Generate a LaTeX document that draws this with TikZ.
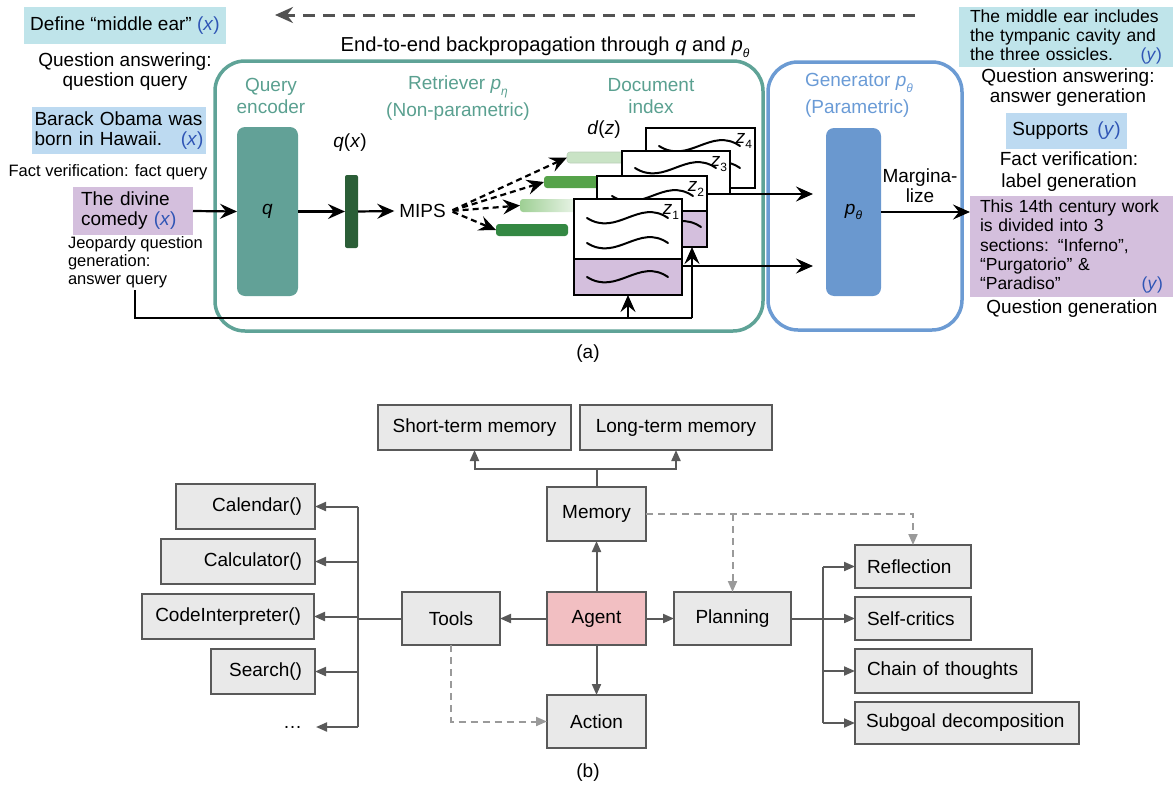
\documentclass[tikz,border=0pt]{standalone}
\usepackage{fontspec}
\setmainfont{Liberation Sans}
\usetikzlibrary{arrows.meta,calc}

\definecolor{tealline}{HTML}{5FA397}
\definecolor{tealfill}{HTML}{62A197}
\definecolor{tealtext}{HTML}{5AA090}
\definecolor{blueline}{HTML}{6C9BD3}
\definecolor{bluefill}{HTML}{6A98CF}
\definecolor{bluetext}{HTML}{6A9BD6}
\definecolor{cyanbox}{HTML}{BFE4EA}
\definecolor{lbluebox}{HTML}{BDDAF1}
\definecolor{purplebox}{HTML}{D4BFDD}
\definecolor{varblue}{HTML}{2F55B5}
\definecolor{qxgreen}{HTML}{2B5E37}
\definecolor{bardark}{HTML}{348843}
\definecolor{barmid}{HTML}{56A34A}
\definecolor{barpale}{HTML}{C9E3C5}
\definecolor{barlight}{HTML}{9ECF94}
\definecolor{boxgray}{HTML}{E9E9E9}
\definecolor{edgegray}{HTML}{595959}
\definecolor{dashgray}{HTML}{9A9A9A}
\definecolor{agentpink}{HTML}{F2BFC2}

\newcommand\xvar{\textcolor{varblue}{(\textit{x})}}
\newcommand\yvar{\textcolor{varblue}{(\textit{y})}}
\newcommand\parsub[1]{\textit{p}\raisebox{-0.3em}{\fontsize{12}{12}\selectfont\textit{#1}}}
\newcommand\docz[1]{\textit{z}\raisebox{-0.3em}{\fontsize{12}{12}\selectfont #1}}

\tikzset{
  docwave/.pic={\draw[line width=2pt, line cap=round] (0,0) .. controls (30,19) and (52,-20) .. (81,0);},
  blacktip/.tip={Stealth[length=17pt,width=15pt,inset=6pt]},
}

\begin{document}
\begin{tikzpicture}[x=1pt,y=-1pt,
  every node/.style={inner sep=0pt, outer sep=0pt, font=\fontsize{19}{20}\selectfont},
  smalltxt/.style={font=\fontsize{16.5}{18}\selectfont},
  boxtxt/.style={font=\fontsize{17.5}{19.3}\selectfont},
  arr/.style={line width=2.2pt, -blacktip},
  dasharr/.style={arr, dash pattern=on 6pt off 4pt},
  backprop/.style={draw=black!68, line width=3pt, dash pattern=on 12pt off 8pt, -{Stealth[length=18pt,width=16pt,inset=6pt]}},
  card/.style={draw=black, line width=2pt, fill=white},
  cardq/.style={card, fill=purplebox},
  docbar/.style={rounded corners=3pt},
  gbox/.style={draw=edgegray, fill=boxgray, line width=2pt},
  garr/.style={draw=edgegray, line width=2pt, -{Triangle[length=11pt,width=9pt]}},
  gdash/.style={draw=dashgray, line width=2pt, dash pattern=on 7pt off 5pt, -{Triangle[length=11pt,width=9pt]}},
  gline/.style={draw=edgegray, line width=2pt},
]
\useasboundingbox (0,0) rectangle (1173,787);

% ---------------- (a) retrieval-augmented generation ----------------
\node[draw=tealline, line width=3.5pt, rounded corners=30pt, minimum width=548pt, minimum height=270pt] (retr) at (489,196) {};
\node[draw=blueline, line width=3.5pt, rounded corners=30pt, minimum width=194pt, minimum height=268pt] (gen) at (865,196) {};

% backpropagation arrow
\coordinate (bpstart) at (915,15);
\coordinate (bpend) at (275,15);
\draw[backprop] (bpstart) -- (bpend);
\node[font=\fontsize{20.2}{20}\selectfont] (bptext) at (545,47) {End-to-end backpropagation through \textit{q} and \parsub{θ}};

% inputs
\node[fill=cyanbox, minimum width=202pt, minimum height=37pt] (define) at (125,25.5) {Define “middle ear” \xvar};
\node[align=center] (qaq) at (125,71.5) {Question answering:\\question query};
\node[fill=lbluebox, text width=169pt, inner xsep=2.5pt, minimum height=47pt, align=left] (barack) at (119,130.5) {\mbox{Barack Obama was}\\\mbox{born in Hawaii.}\hfill\xvar};
\node[smalltxt] (fvq) at (108,172) {Fact verification: fact query};
\node[fill=purplebox, text width=104pt, inner xsep=8pt, minimum height=48pt, align=left] (divine) at (133,211) {\mbox{The divine}\\\mbox{comedy \xvar}};
\node[smalltxt, align=left, anchor=west] (jeop) at (68,262) {Jeopardy question\\generation:\\answer query};

% retriever
\node[text=tealtext, align=center, font=\fontsize{19}{22}\selectfont] (qenctext) at (271,96) {Query\\encoder};
\node[text=tealtext, align=center, font=\fontsize{19}{27}\selectfont] (retrtext) at (458,98.5) {Retriever \parsub{η}\\(Non-parametric)};
\node[text=tealtext, align=center, font=\fontsize{19}{22}\selectfont] (doctext) at (651,96) {Document\\index};
\node[fill=tealfill, rounded corners=8pt, minimum width=61pt, minimum height=169pt] (qenc) at (267.5,211.5) {\textit{q}};
\node[fill=qxgreen, rounded corners=2pt, minimum width=13pt, minimum height=73pt] (qx) at (351.5,211.5) {};
\node (qxlbl) at (350,143) {\textit{q}(\textit{x})};
\node[inner xsep=5pt] (mips) at (422.5,211) {MIPS};
\node (dzlbl) at (604,130) {\textit{d}(\textit{z})};

% document embeddings
\node[docbar, fill=barpale, draw=barpale!80!gray, line width=0.6pt, minimum width=60pt, minimum height=11pt] (bar1) at (597,157.5) {};
\node[docbar, fill=barmid, minimum width=56pt, minimum height=12pt] (bar2) at (572,182) {};
\node[docbar, left color=barlight, right color=barpale!40!white, minimum width=56pt, minimum height=13pt] (bar3) at (548,205.5) {};
\node[docbar, fill=bardark, minimum width=72pt, minimum height=12pt] (bar4) at (532,230) {};

% documents, back to front
\node[card, minimum width=109pt, minimum height=60pt] (card4) at (700.5,158) {};
\pic at (659,146) {docwave};
\pic at (659,168) {docwave};
\node (z4) at (744,141) {\docz{4}};
\node[card, minimum width=108pt, minimum height=43pt] (card3) at (676,172.5) {};
\pic at (635,168) {docwave};
\node (z3) at (719,164) {\docz{3}};
\node[card, minimum width=110pt, minimum height=35pt] (card2) at (652,193.5) {};
\node[cardq, minimum width=110pt, minimum height=36pt] (card2q) at (652,229) {};
\pic at (612,196) {docwave};
\pic at (620,227) {docwave};
\node (z2) at (696,189) {\docz{2}};
\node[card, minimum width=108pt, minimum height=60pt] (card1) at (628,229) {};
\node[cardq, minimum width=108pt, minimum height=36pt] (card1q) at (628,277) {};
\pic at (587,218) {docwave};
\pic at (587,243) {docwave};
\pic at (587,277) {docwave};
\node (z1) at (671,212) {\docz{1}};

% generator
\node[text=bluetext, align=left, anchor=west, font=\fontsize{19}{27}\selectfont] (gentext) at (805,95.5) {Generator \parsub{θ}\\(Parametric)};
\node[fill=bluefill, rounded corners=8pt, minimum width=55pt, minimum height=168pt] (pgen) at (853.5,212) {\parsub{θ}};
\node[align=center] (marg) at (920,186) {Margina-\\lize};

% outputs
\node[boxtxt, fill=cyanbox, text width=192pt, inner xsep=11pt, minimum height=60pt, align=left] (mearans) at (1066,37) {\mbox{The middle ear includes}\\\mbox{the tympanic cavity and}\\\mbox{the three ossicles.}\hfill\yvar};
\node[align=center] (qag) at (1068,88) {Question answering:\\answer generation};
\node[fill=lbluebox, minimum width=121pt, minimum height=36pt] (supports) at (1066.5,131) {Supports\hspace{9pt}\yvar};
\node[align=center, font=\fontsize{19}{22}\selectfont] (fvl) at (1069,172) {Fact verification:\\label generation};
\node[boxtxt, fill=purplebox, text width=183pt, inner xsep=10pt, minimum height=101pt, align=left] (jans) at (1071.5,246.5) {\mbox{This 14th century work}\\\mbox{is divided into 3}\\\mbox{sections: “Inferno”,}\\\mbox{“Purgatorio” \&}\\\mbox{“Paradiso”}\hfill\yvar};
\node (qgen) at (1072,309) {Question generation};

% connectors
\draw[arr] (divine.east) -- (qenc.west);
\draw[arr] (qenc.east) -- (qx.west);
\draw[arr] (qx.east) -- (mips.west);
\foreach \b in {bar1,bar2,bar3,bar4}
  \draw[dasharr, shorten <=2pt] (mips.east) -- (\b.west);
\draw[arr, shorten >=13pt] (card3.south east) -- (card3.south east -| pgen.west);
\coordinate (lowout) at ([yshift=-7pt]card1q.north east);
\draw[arr, shorten >=13pt] (lowout) -- (lowout -| pgen.west);
\draw[arr] (pgen.east) -- (pgen.east -| jans.west);

\coordinate (feedstart) at (135,290);
\coordinate (z2in) at ([xshift=-15pt]card2q.south east);
\coordinate (feedend) at (692,318);
\draw[line width=2.2pt] (feedstart) |- (feedend);
\draw[arr] (card1q.south |- feedend) -- (card1q.south);
\draw[arr] (feedend) -- (z2in);

\node (capa) at (588,354) {(a)};

% ---------------- (b) LLM-powered agent ----------------
\node[gbox, minimum width=193pt, minimum height=45pt] (short) at (474.5,427.5) {Short-term memory};
\node[gbox, minimum width=192pt, minimum height=45pt] (long) at (676,427.5) {Long-term memory};
\node[gbox, minimum width=99pt, minimum height=54pt] (memory) at (596.5,514) {Memory};
\node[gbox, fill=agentpink, minimum width=99pt, minimum height=53pt] (agent) at (596.5,618.5) {Agent};
\node[gbox, minimum width=99pt, minimum height=53pt] (action) at (596.5,721.5) {Action};
\node[gbox, minimum width=98pt, minimum height=53pt] (tools) at (451,618.5) {Tools};
\node[gbox, minimum width=117pt, minimum height=53pt] (planning) at (732.5,618.5) {Planning};

\node[gbox, text width=113pt, inner xsep=13pt, minimum height=45pt, align=right] (calendar) at (245.5,506.5) {Calendar()};
\node[gbox, text width=128pt, inner xsep=13pt, minimum height=45pt, align=right] (calculator) at (238,561.5) {Calculator()};
\node[gbox, text width=146pt, inner xsep=13pt, minimum height=45pt, align=right] (codeint) at (228,616.5) {CodeInterpreter()};
\node[gbox, text width=78pt, inner xsep=13pt, minimum height=45pt, align=right] (search) at (263,671.5) {Search()};
\node[inner xsep=14pt, anchor=east] (dots) at (316,727) {…};

\node[gbox, text width=92pt, inner xsep=12pt, minimum height=43pt, align=left] (reflection) at (913,566.5) {Reflection};
\node[gbox, text width=92pt, inner xsep=12pt, minimum height=43pt, align=left] (selfcrit) at (913,618.5) {Self-critics};
\node[gbox, text width=153pt, inner xsep=12pt, minimum height=44pt, align=left] (chain) at (943.5,671) {Chain of thoughts};
\node[gbox, text width=202pt, inner xsep=11pt, minimum height=42pt, align=left] (subgoal) at (967,723) {Subgoal decomposition};

% agent links
\draw[garr] (agent.north) -- (memory.south);
\draw[garr] (agent.west) -- (tools.east);
\draw[garr] (agent.east) -- (planning.west);
\draw[garr] (agent.south) -- (action.north);

% memory tree
\coordinate (mbus) at (596.5,469);
\draw[gline] (memory.north) -- (mbus);
\draw[garr] (mbus) -| (short.south);
\draw[garr] (mbus) -| (long.south);

% tools tree
\coordinate (tbus) at (358,618.5);
\draw[gline] (tools.west) -- (tbus);
\draw[gline] (tbus |- calendar.east) -- (tbus |- dots.east);
\foreach \t in {calendar,calculator,codeint,search,dots}
  \draw[garr] (tbus |- \t.east) -- (\t.east);

% planning tree
\coordinate (pbus) at (823,618.5);
\draw[gline] (planning.east) -- (pbus);
\draw[gline] (pbus |- reflection.west) -- (pbus |- subgoal.west);
\foreach \t in {reflection,selfcrit,chain,subgoal}
  \draw[garr] (pbus |- \t.west) -- (\t.west);

% dashed influences
\draw[gdash] (tools.south) |- (action.west);
\draw[gdash] (memory.east) -| (reflection.north);
\draw[gdash] (memory.east -| planning.north) -- (planning.north);

\node (capb) at (588,773) {(b)};
\end{tikzpicture}
\end{document}
